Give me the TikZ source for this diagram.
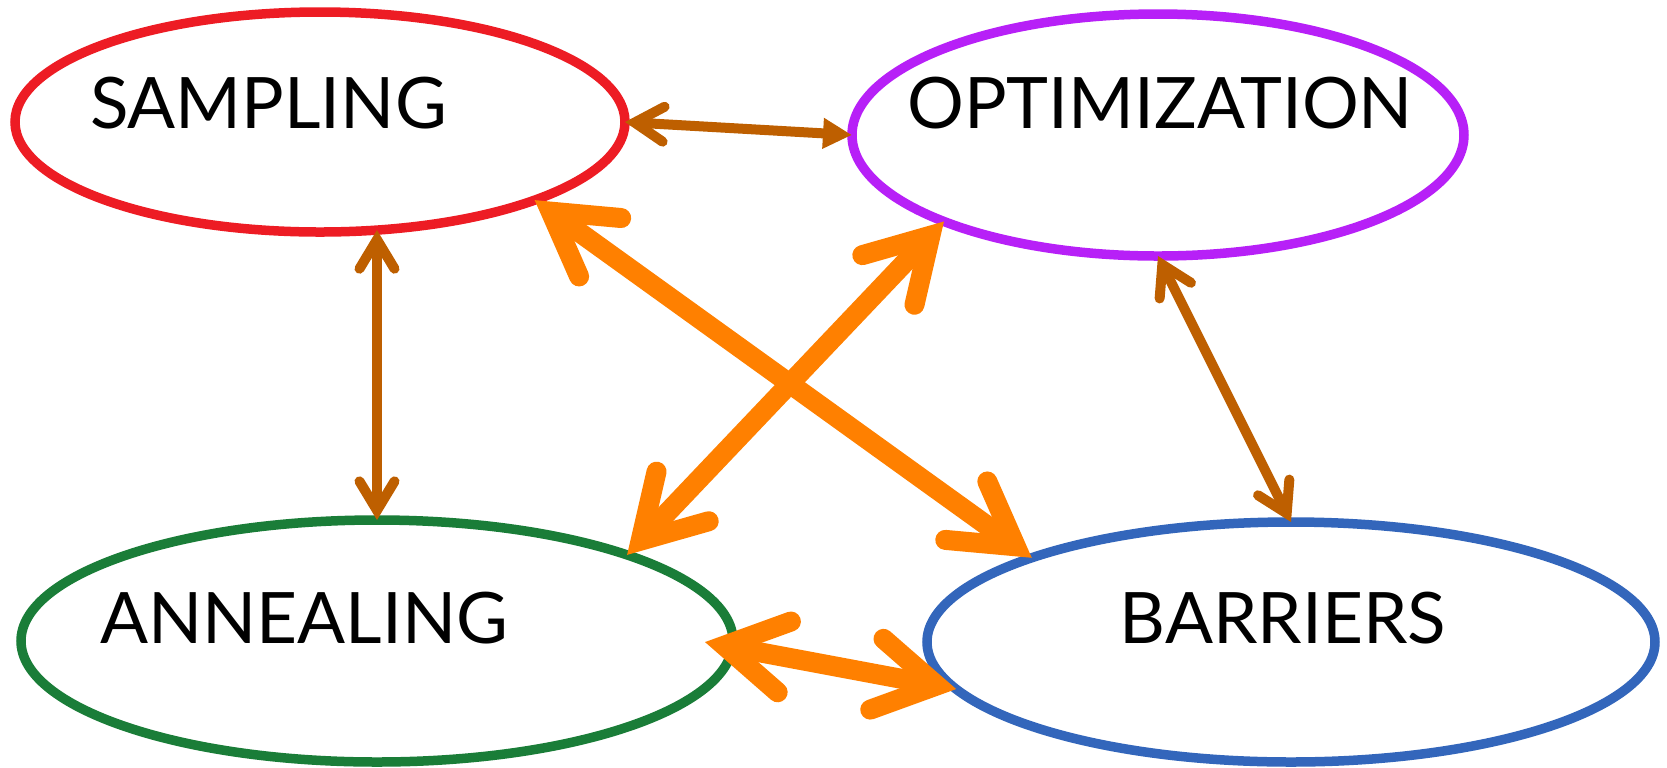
\documentclass[tikz,border=0pt]{standalone}
\usepackage{fontspec}
\setmainfont{Lato}
\usepackage{tikz}
\usetikzlibrary{shapes.geometric,arrows.meta}
\definecolor{sampred}{RGB}{237,28,36}
\definecolor{optpurple}{RGB}{183,32,247}
\definecolor{anngreen}{RGB}{26,125,56}
\definecolor{barblue}{RGB}{51,102,187}
\definecolor{linkorange}{RGB}{255,128,0}
\definecolor{linkbrown}{RGB}{190,95,0}
\tikzset{
	blob/.style={ellipse,draw,line width=0.095cm,inner sep=0pt,outer sep=0pt,fill=white},
	word/.style={anchor=base,inner sep=0pt,font=\fontsize{20.2pt}{24pt}\selectfont},
	thin link/.style={linkbrown,line width=0.1cm},
	thick link/.style={linkorange,line width=0.2cm},
	bbarb/.tip={Straight Barb[length=0.29cm,width=0.35cm,line cap=round,line join=miter]},
	obarb/.tip={Straight Barb[length=0.61cm,width=0.72cm,line cap=round,line join=miter]},
}

\begin{document}
\begin{tikzpicture}
		\useasboundingbox (0,0) rectangle (16.67,-7.67);
		
		\node[blob,draw=sampred,minimum width=6.10cm,minimum height=2.20cm] (samp) at (3.20,-1.22) {};
		\node[blob,draw=optpurple,minimum width=6.12cm,minimum height=2.42cm] (opt) at (11.58,-1.35) {};
		\node[blob,draw=anngreen,minimum width=7.12cm,minimum height=2.42cm] (ann) at (3.77,-6.41) {};
		\node[blob,draw=barblue,minimum width=7.28cm,minimum height=2.40cm] (bar) at (12.91,-6.42) {};
		
		\node[word] (sampT) at (2.685,-1.28) {SAMPLING};
		\node[word] (optT) at (11.60,-1.28) {OPTIMIZATION};
		\node[word] (annT) at (3.04,-6.43) {ANNEALING};
		\node[word] (barT) at (12.83,-6.43) {BARRIERS};
		
		\draw[thin link,bbarb-{Triangle[length=0.29cm,width=0.29cm]}] (samp.east) -- (opt.west);
		\draw[thin link,bbarb-bbarb] (ann.north) -- (ann.north |- samp.-62);
		\draw[thin link,bbarb-bbarb] (opt.south) -- (bar.north);
		
		\draw[thick link,obarb-obarb] (samp.-20) -- (bar.162);
		\draw[thick link,obarb-obarb] (ann.19) -- (opt.202);
		\draw[thick link,obarb-obarb,shorten <=-0.28cm] (ann.-1) -- (bar.188);
	
\end{tikzpicture}
\end{document}
